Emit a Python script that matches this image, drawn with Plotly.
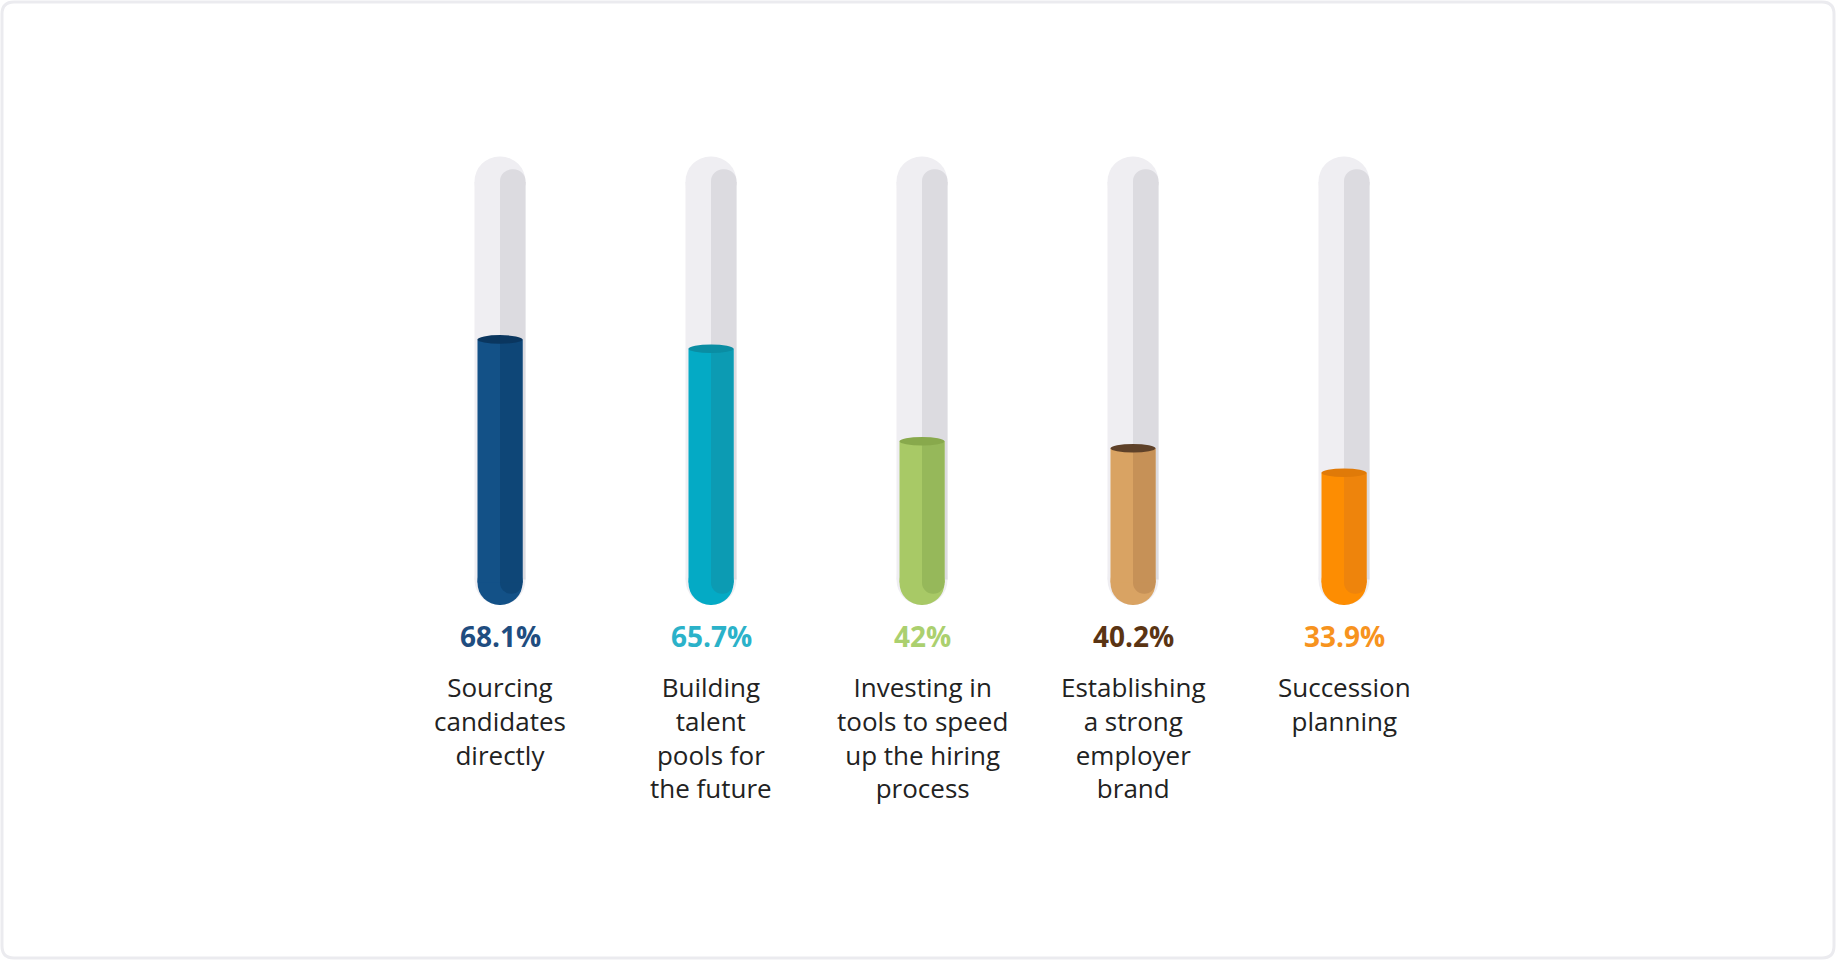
import plotly.graph_objects as go

# data read from the infographic
categories = [
    ["Sourcing", "candidates", "directly"],
    ["Building", "talent", "pools for", "the future"],
    ["Investing in", "tools to speed", "up the hiring", "process"],
    ["Establishing", "a strong", "employer", "brand"],
    ["Succession", "planning"],
]
values = [68.1, 65.7, 42, 40.2, 33.9]

# colours per tube
fill_light = ["#135187", "#04aac5", "#a8c966", "#d9a363", "#fd8d02"]
fill_dark = ["#0e4677", "#0c9bb3", "#96b85a", "#c69157", "#ee840c"]
cap_colors = ["#0a365f", "#0a8da3", "#88a94c", "#5e4129", "#e07a08"]
label_colors = ["#1f4d80", "#2bb2c9", "#abd06f", "#5a3413", "#f7931e"]

# layout in pixels of the 1836x960 page
W, H = 1836, 960
X0_PX, STEP_PX = 500, 211        # centre of first tube, tube spacing
BASE_PX = 605                    # pixel row of the tube bottom
PX_PER_UNIT = 3.9                # vertical pixels per percent
TRACK_TOP = 115                  # track height in percent units
TRACK_PX, FILL_PX = 51, 45       # tube widths in pixels
TW = TRACK_PX / STEP_PX
FW = FILL_PX / STEP_PX
Rt = (TRACK_PX / 2) / PX_PER_UNIT   # track end radius in y units
Rf = (FILL_PX / 2) / PX_PER_UNIT    # fill end radius in y units

xs = list(range(len(values)))
n = len(xs)


def bar(base, length, width, color, round_end=False, offset=None):
    return go.Bar(x=xs, base=base, y=length, width=width, offset=offset,
                  marker=dict(color=color, line_width=0,
                              cornerradius="50%" if round_end else 0))


fig = go.Figure()

# grey track: straight body plus rounded ends
fig.add_trace(bar([Rt] * n, [TRACK_TOP - 2 * Rt] * n, TW, "#efeef2"))
fig.add_trace(bar([TRACK_TOP - 2 * Rt] * n, [2 * Rt] * n, TW, "#efeef2", True))
fig.add_trace(bar([2 * Rt] * n, [-2 * Rt] * n, TW, "#efeef2", True))
# darker right side of the track
fig.add_trace(bar([TRACK_TOP - 1.5 * Rt] * n, [Rt] * n, TW / 2, "#dcdbe0", True, 0))
fig.add_trace(bar([Rt] * n, [TRACK_TOP - 2 * Rt] * n, TW / 2, "#dcdbe0", False, 0))

# coloured fill: straight body from the value down, rounded bottom end
fig.add_trace(bar([2 * Rf] * n, [-2 * Rf] * n, FW, fill_light, True))
fig.add_trace(bar([Rf] * n, [v - Rf for v in values], FW, fill_light))
fig.add_trace(bar([1.5 * Rf] * n, [-Rf] * n, FW / 2, fill_dark, True, 0))
fig.add_trace(bar([Rf] * n, [v - Rf for v in values], FW / 2, fill_dark, False, 0))

# elliptical cap on top of each fill
for i, v in enumerate(values):
    fig.add_shape(type="circle", xref="x", yref="y",
                  x0=i - FW / 2, x1=i + FW / 2, y0=v - 1.1, y1=v + 1.1,
                  fillcolor=cap_colors[i], line_width=0)

# percentage and category labels
for i, v in enumerate(values):
    fig.add_annotation(x=i, y=0, text=f"<b>{v:g}%</b>", showarrow=False,
                       yanchor="middle", yshift=-31,
                       font=dict(family="Open Sans", size=28, color=label_colors[i]))
    fig.add_annotation(x=i, y=0, text="<br>".join(categories[i]), showarrow=False,
                       yanchor="top", yshift=-62, align="center",
                       font=dict(family="Open Sans", size=26, color="#222222"))

# rounded frame around the card
rx, ry = 12 / W, 12 / H
x0, x1, y0, y1 = 2 / W, 1 - 2 / W, 2 / H, 1 - 2 / H
frame = (f"M {x0 + rx},{y0} L {x1 - rx},{y0} Q {x1},{y0} {x1},{y0 + ry} "
         f"L {x1},{y1 - ry} Q {x1},{y1} {x1 - rx},{y1} L {x0 + rx},{y1} "
         f"Q {x0},{y1} {x0},{y1 - ry} L {x0},{y0 + ry} Q {x0},{y0} {x0 + rx},{y0} Z")
fig.add_shape(type="path", xref="paper", yref="paper", path=frame,
              line=dict(color="#ebebef", width=3), layer="below")

fig.update_layout(
    width=W, height=H,
    margin=dict(l=0, r=0, t=0, b=0),
    barmode="overlay",
    showlegend=False,
    paper_bgcolor="white",
    plot_bgcolor="white",
    xaxis=dict(range=[-X0_PX / STEP_PX, (W - X0_PX) / STEP_PX], visible=False, fixedrange=True),
    yaxis=dict(range=[-(H - BASE_PX) / PX_PER_UNIT, BASE_PX / PX_PER_UNIT], visible=False, fixedrange=True),
)
fig.update_traces(hoverinfo="skip")

fig.write_html("out.html", config={"displayModeBar": False},
               post_script="document.body.style.margin='0px'; document.body.style.overflow='hidden';")
